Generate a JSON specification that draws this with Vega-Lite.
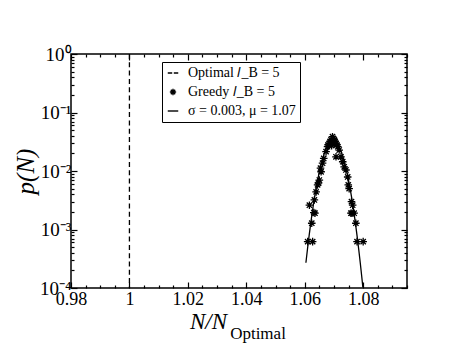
{
  "$schema": "https://vega.github.io/schema/vega-lite/v6.json",
  "width": 336,
  "height": 234,
  "autosize": "none",
  "padding": {"left": 71, "top": 54, "right": 51, "bottom": 66},
  "background": "white",
  "config": {
    "view": {"stroke": "black", "strokeWidth": 1.5},
    "font": "Liberation Serif",
    "axis": {"labelFont": "Liberation Serif", "titleFont": "Liberation Serif"},
    "legend": {"labelFont": "Liberation Serif"}
  },
  "title": {
    "text": "Optimal",
    "orient": "bottom",
    "anchor": "middle",
    "dx": 19,
    "offset": 6,
    "baseline": "alphabetic",
    "font": "Liberation Serif",
    "fontSize": 17,
    "fontWeight": "normal",
    "color": "black"
  },
  "datasets": {
    "optimal": [
      {"x": 1, "series": "Optimal 𝑙_B = 5"}
    ],
    "greedy": [
      {"x": 1.0610, "p": 0.00062, "series": "Greedy 𝑙_B = 5"},
      {"x": 1.0627, "p": 0.00062, "series": "Greedy 𝑙_B = 5"},
      {"x": 1.0779, "p": 0.00062, "series": "Greedy 𝑙_B = 5"},
      {"x": 1.0800, "p": 0.00062, "series": "Greedy 𝑙_B = 5"},
      {"x": 1.0624, "p": 0.00128, "series": "Greedy 𝑙_B = 5"},
      {"x": 1.0775, "p": 0.00128, "series": "Greedy 𝑙_B = 5"},
      {"x": 1.0635, "p": 0.0019, "series": "Greedy 𝑙_B = 5"},
      {"x": 1.0631, "p": 0.00195, "series": "Greedy 𝑙_B = 5"},
      {"x": 1.0758, "p": 0.0019, "series": "Greedy 𝑙_B = 5"},
      {"x": 1.0762, "p": 0.0019, "series": "Greedy 𝑙_B = 5"},
      {"x": 1.0769, "p": 0.0019, "series": "Greedy 𝑙_B = 5"},
      {"x": 1.0616, "p": 0.0026, "series": "Greedy 𝑙_B = 5"},
      {"x": 1.0764, "p": 0.0026, "series": "Greedy 𝑙_B = 5"},
      {"x": 1.0760, "p": 0.0030, "series": "Greedy 𝑙_B = 5"},
      {"x": 1.0633, "p": 0.0032, "series": "Greedy 𝑙_B = 5"},
      {"x": 1.0639, "p": 0.0044, "series": "Greedy 𝑙_B = 5"},
      {"x": 1.0644, "p": 0.0058, "series": "Greedy 𝑙_B = 5"},
      {"x": 1.0647, "p": 0.0062, "series": "Greedy 𝑙_B = 5"},
      {"x": 1.0650, "p": 0.0070, "series": "Greedy 𝑙_B = 5"},
      {"x": 1.0656, "p": 0.0097, "series": "Greedy 𝑙_B = 5"},
      {"x": 1.0654, "p": 0.0112, "series": "Greedy 𝑙_B = 5"},
      {"x": 1.0661, "p": 0.0136, "series": "Greedy 𝑙_B = 5"},
      {"x": 1.0665, "p": 0.0164, "series": "Greedy 𝑙_B = 5"},
      {"x": 1.0673, "p": 0.0214, "series": "Greedy 𝑙_B = 5"},
      {"x": 1.0678, "p": 0.0260, "series": "Greedy 𝑙_B = 5"},
      {"x": 1.0680, "p": 0.0280, "series": "Greedy 𝑙_B = 5"},
      {"x": 1.0684, "p": 0.0297, "series": "Greedy 𝑙_B = 5"},
      {"x": 1.0687, "p": 0.0320, "series": "Greedy 𝑙_B = 5"},
      {"x": 1.0690, "p": 0.0339, "series": "Greedy 𝑙_B = 5"},
      {"x": 1.0692, "p": 0.0271, "series": "Greedy 𝑙_B = 5"},
      {"x": 1.0695, "p": 0.0386, "series": "Greedy 𝑙_B = 5"},
      {"x": 1.0696, "p": 0.0300, "series": "Greedy 𝑙_B = 5"},
      {"x": 1.0698, "p": 0.0360, "series": "Greedy 𝑙_B = 5"},
      {"x": 1.0701, "p": 0.0339, "series": "Greedy 𝑙_B = 5"},
      {"x": 1.0704, "p": 0.0320, "series": "Greedy 𝑙_B = 5"},
      {"x": 1.0707, "p": 0.0297, "series": "Greedy 𝑙_B = 5"},
      {"x": 1.0710, "p": 0.0280, "series": "Greedy 𝑙_B = 5"},
      {"x": 1.0713, "p": 0.0260, "series": "Greedy 𝑙_B = 5"},
      {"x": 1.0718, "p": 0.0228, "series": "Greedy 𝑙_B = 5"},
      {"x": 1.0707, "p": 0.0175, "series": "Greedy 𝑙_B = 5"},
      {"x": 1.0724, "p": 0.0175, "series": "Greedy 𝑙_B = 5"},
      {"x": 1.0730, "p": 0.0144, "series": "Greedy 𝑙_B = 5"},
      {"x": 1.0735, "p": 0.0118, "series": "Greedy 𝑙_B = 5"},
      {"x": 1.0741, "p": 0.0104, "series": "Greedy 𝑙_B = 5"},
      {"x": 1.0747, "p": 0.0079, "series": "Greedy 𝑙_B = 5"},
      {"x": 1.0749, "p": 0.0058, "series": "Greedy 𝑙_B = 5"},
      {"x": 1.0752, "p": 0.0050, "series": "Greedy 𝑙_B = 5"}
    ],
    "fit": [
      {"x": 1.0604, "p": 0.000270},
      {"x": 1.0610, "p": 0.000492},
      {"x": 1.0615, "p": 0.000788},
      {"x": 1.0620, "p": 0.001225},
      {"x": 1.0625, "p": 0.00185},
      {"x": 1.0630, "p": 0.00273},
      {"x": 1.0635, "p": 0.00390},
      {"x": 1.0640, "p": 0.00543},
      {"x": 1.0645, "p": 0.00735},
      {"x": 1.0650, "p": 0.00967},
      {"x": 1.0655, "p": 0.01239},
      {"x": 1.0660, "p": 0.01543},
      {"x": 1.0665, "p": 0.01868},
      {"x": 1.0670, "p": 0.0220},
      {"x": 1.0675, "p": 0.0252},
      {"x": 1.0680, "p": 0.0281},
      {"x": 1.0685, "p": 0.0305},
      {"x": 1.0690, "p": 0.0321},
      {"x": 1.0695, "p": 0.0329},
      {"x": 1.0700, "p": 0.0328},
      {"x": 1.0705, "p": 0.0318},
      {"x": 1.0710, "p": 0.0300},
      {"x": 1.0715, "p": 0.0276},
      {"x": 1.0720, "p": 0.0246},
      {"x": 1.0725, "p": 0.0213},
      {"x": 1.0730, "p": 0.0180},
      {"x": 1.0735, "p": 0.0148},
      {"x": 1.0740, "p": 0.0118},
      {"x": 1.0745, "p": 0.00917},
      {"x": 1.0750, "p": 0.00693},
      {"x": 1.0755, "p": 0.00509},
      {"x": 1.0760, "p": 0.00364},
      {"x": 1.0765, "p": 0.00253},
      {"x": 1.0770, "p": 0.00171},
      {"x": 1.0775, "p": 0.00112},
      {"x": 1.0780, "p": 0.000719},
      {"x": 1.0785, "p": 0.000447},
      {"x": 1.0790, "p": 0.000270},
      {"x": 1.0795, "p": 0.000159},
      {"x": 1.0799, "p": 0.000102}
    ]
  },
  "layer": [
    {
      "data": {"name": "optimal"},
      "mark": {"type": "rule", "color": "black", "strokeWidth": 1.3, "strokeDash": [5, 3.3]},
      "encoding": {
        "x": {"field": "x", "type": "quantitative", "axis": null}
      }
    },
    {
      "data": {"name": "fit"},
      "mark": {"type": "line", "color": "black", "strokeWidth": 1.3, "clip": true},
      "encoding": {
        "x": {
          "field": "x", "type": "quantitative",
          "axis": {
            "orient": "top", "labels": false, "title": null, "domain": false, "grid": false,
            "values": [0.98, 0.985, 0.99, 0.995, 1, 1.005, 1.01, 1.015, 1.02, 1.025, 1.03, 1.035, 1.04, 1.045, 1.05, 1.055, 1.06, 1.065, 1.07, 1.075, 1.08, 1.085, 1.09, 1.095],
            "tickColor": "black", "tickWidth": 1.2,
            "tickSize": {"condition": {"test": "indexof([0.98,1,1.02,1.04,1.06,1.08], datum.value) >= 0", "value": -6}, "value": -3}
          }
        },
        "y": {
          "field": "p", "type": "quantitative",
          "axis": {
            "orient": "right", "labels": false, "title": null, "domain": false, "grid": false,
            "values": [0.0001, 0.0002, 0.0003, 0.0004, 0.0005, 0.0006, 0.0007, 0.0008, 0.0009, 0.001, 0.002, 0.003, 0.004, 0.005, 0.006, 0.007, 0.008, 0.009, 0.01, 0.02, 0.03, 0.04, 0.05, 0.06, 0.07, 0.08, 0.09, 0.1, 0.2, 0.3, 0.4, 0.5, 0.6, 0.7, 0.8, 0.9, 1],
            "tickColor": "black", "tickWidth": 1.2,
            "tickSize": {"condition": {"test": "indexof([1,0.1,0.01,0.001,0.0001], datum.value) >= 0", "value": -6}, "value": -3}
          }
        }
      }
    },
    {
      "data": {"name": "greedy"},
      "mark": {"type": "point", "filled": false, "stroke": "black", "strokeWidth": 1.3, "size": 160, "opacity": 1},
      "encoding": {
        "x": {
          "field": "x", "type": "quantitative",
          "scale": {"domain": [0.98, 1.095], "nice": false, "zero": false},
          "axis": {
            "orient": "bottom", "domain": false, "grid": false,
            "values": [0.98, 0.985, 0.99, 0.995, 1, 1.005, 1.01, 1.015, 1.02, 1.025, 1.03, 1.035, 1.04, 1.045, 1.05, 1.055, 1.06, 1.065, 1.07, 1.075, 1.08, 1.085, 1.09, 1.095],
            "labelExpr": "indexof([0.98,1,1.02,1.04,1.06,1.08], datum.value) >= 0 ? format(datum.value, '~g') : ''",
            "labelFont": "Liberation Serif", "labelFontSize": 18, "labelColor": "black",
            "labelPadding": 8, "labelFlush": false, "labelOverlap": false,
            "tickColor": "black", "tickWidth": 1.2,
            "tickSize": {"condition": {"test": "indexof([0.98,1,1.02,1.04,1.06,1.08], datum.value) >= 0", "value": -6}, "value": -3},
            "title": "N/N",
            "titleFont": "Liberation Serif", "titleFontSize": 23, "titleFontStyle": "italic", "titleFontWeight": "normal", "titleColor": "black",
            "titleX": 137, "titleY": 40, "titleBaseline": "alphabetic", "titleAlign": "center"
          }
        },
        "y": {
          "field": "p", "type": "quantitative",
          "scale": {"type": "log", "domain": [0.0001, 1], "nice": false},
          "axis": {
            "orient": "left", "domain": false, "grid": false,
            "values": [0.0001, 0.0002, 0.0003, 0.0004, 0.0005, 0.0006, 0.0007, 0.0008, 0.0009, 0.001, 0.002, 0.003, 0.004, 0.005, 0.006, 0.007, 0.008, 0.009, 0.01, 0.02, 0.03, 0.04, 0.05, 0.06, 0.07, 0.08, 0.09, 0.1, 0.2, 0.3, 0.4, 0.5, 0.6, 0.7, 0.8, 0.9, 1],
            "labelExpr": "datum.value == 1 ? '10⁰' : datum.value == 0.1 ? '10⁻¹' : datum.value == 0.01 ? '10⁻²' : datum.value == 0.001 ? '10⁻³' : datum.value == 0.0001 ? '10⁻⁴' : ''",
            "labelFont": "Liberation Serif", "labelFontSize": 19, "labelColor": "black",
            "labelPadding": 6, "labelFlush": false, "labelOverlap": false,
            "tickColor": "black", "tickWidth": 1.2,
            "tickSize": {"condition": {"test": "indexof([1,0.1,0.01,0.001,0.0001], datum.value) >= 0", "value": -6}, "value": -3},
            "title": "p(N)",
            "titleFont": "Liberation Serif", "titleFontSize": 25, "titleFontStyle": "italic", "titleFontWeight": "normal", "titleColor": "black",
            "titleX": -46, "titleY": 117, "titleBaseline": "middle", "titleAlign": "center", "titleAngle": -90
          }
        },
        "shape": {
          "field": "series", "type": "nominal",
          "scale": {
            "domain": ["Optimal 𝑙_B = 5", "Greedy 𝑙_B = 5", "σ = 0.003, μ = 1.07"],
            "range": [
              "M-1,0H-0.15M0.15,0H1",
              "M0,-0.6V0.6M-0.6,0H0.6M-0.42,-0.42L0.42,0.42M-0.42,0.42L0.42,-0.42",
              "M-1,0H1"
            ]
          },
          "legend": {
            "title": null,
            "orient": "none",
            "legendX": 91,
            "legendY": 8,
            "padding": 4,
            "strokeColor": "black",
            "fillColor": "white",
            "labelFont": "Liberation Serif",
            "labelFontSize": 14,
            "labelColor": "black",
            "labelOffset": 8,
            "labelLimit": 300,
            "rowPadding": 5,
            "symbolSize": 110,
            "symbolStrokeColor": "black",
            "symbolStrokeWidth": 1.4,
            "symbolFillColor": "transparent",
            "symbolOpacity": 1
          }
        }
      }
    }
  ]
}
